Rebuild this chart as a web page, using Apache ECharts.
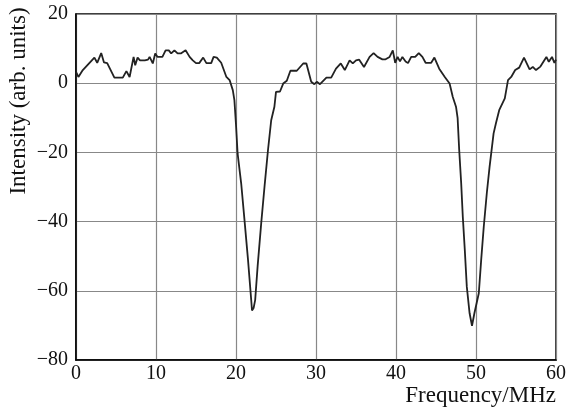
<!DOCTYPE html>
<html>
<head>
<meta charset="utf-8">
<script src="https://cdn.jsdelivr.net/npm/echarts@6/dist/echarts.min.js"></script>
<style>
  html, body { margin: 0; padding: 0; background: #fff; }
  #chart { width: 568px; height: 412px; }
</style>
</head>
<body>
<div id="chart"></div>
<script>
// values
const freq = [
  0, 0.3, 0.85, 2.3, 2.65, 3.15, 3.5, 3.9, 4.8, 5.85, 6.3, 6.7, 7.2, 7.4, 7.7, 8.0, 8.6, 9.0, 9.2, 9.6, 9.9,
  10.2, 10.8, 11.2, 11.6, 11.9, 12.3, 12.7, 13.1, 13.7, 14.2, 14.6, 15.0, 15.4, 15.9, 16.3, 16.9, 17.2,
  17.6, 18.15, 18.4, 18.8, 19.2, 19.6, 19.8, 20.0, 20.2, 20.65, 21.06, 21.5, 21.9, 22.0, 22.2, 22.4,
  22.7, 23.15, 23.6, 24.0, 24.4, 24.8, 25.0, 25.5, 25.9, 26.35, 26.8, 27.6, 28.4, 28.8, 29.4, 29.8,
  30.1, 30.5, 31.3, 31.9, 32.5, 33.1, 33.6, 34.2, 34.6, 35.0, 35.4, 36.0, 36.7, 37.2, 37.7, 38.3,
  38.7, 39.2, 39.6, 39.9, 40.2, 40.5, 40.8, 41.2, 41.5, 41.9, 42.4, 42.85, 43.3, 43.7, 44.4, 44.8,
  45.4, 46.1, 46.7, 47.1, 47.5, 47.7, 47.9, 48.15, 48.35, 48.6, 48.85, 49.2, 49.5, 49.8, 50.35,
  50.65, 50.97, 51.35, 51.7, 52.2, 52.5, 52.9, 53.6, 54.0, 54.4, 54.9, 55.4, 56.0, 56.7, 57.1,
  57.5, 58.05, 58.8, 59.1, 59.5, 59.8, 60
];
const intensity = [
  3.3, 1.8, 3.8, 7.4, 5.9, 8.7, 6.0, 5.8, 1.6, 1.6, 3.5, 1.8, 7.6, 5.2, 7.4, 6.6, 6.6, 6.8, 7.6, 5.7, 8.6,
  7.6, 7.6, 9.5, 9.5, 8.6, 9.5, 8.6, 8.6, 9.5, 7.6, 6.6, 5.8, 5.8, 7.4, 5.8, 5.8, 7.6,
  7.4, 5.9, 5.8, 1.8, 0.9, -2.0, -4.9, -12.0, -20.3, -29.0, -39.5, -51.0, -62.6, -65.7, -65.0, -62.6,
  -53.0, -40.5, -29.0, -19.3, -10.7, -6.8, -2.5, -2.4, -0.1, 0.7, 3.6, 3.6, 5.7, 5.7, 0.4, -0.3,
  0.4, -0.3, 1.6, 1.6, 4.2, 5.7, 3.8, 6.6, 5.7, 6.6, 6.8, 4.7, 7.6, 8.7, 7.6, 6.9,
  6.9, 7.6, 9.5, 5.9, 7.6, 6.3, 7.6, 6.3, 5.8, 7.6, 7.6, 8.7, 7.6, 5.9, 5.9, 7.4,
  4.2, 1.8, -0.1, -4.0, -6.8, -10.0, -19.3, -29.0, -38.6, -48.2, -58.8, -66.5, -70.1, -66.5, -60.7,
  -51.0, -41.5, -31.8, -24.1, -14.5, -11.5, -7.8, -4.4, 0.9, 1.8, 3.8, 4.5, 7.4, 4.0, 4.7,
  3.8, 4.8, 7.6, 6.2, 7.6, 5.9, 6.8
];
const points = freq.map((f, i) => [f, intensity[i]]);

const chart = echarts.init(document.getElementById('chart'));
const font = 'Liberation Serif, Times New Roman, serif';
chart.setOption({
  animation: false,
  grid: {
    left: 76, right: 12, top: 14, bottom: 52,
    outerBoundsMode: 'none', containLabel: false,
    show: true, borderColor: '#000', borderWidth: 1.5
  },
  xAxis: {
    type: 'value', min: 0, max: 60, interval: 10,
    name: 'Frequency/MHz', nameLocation: 'end', nameGap: 0,
    nameTextStyle: { fontFamily: font, fontSize: 23, color: '#111', align: 'right', verticalAlign: 'top', padding: [24, 0, 0, 0] },
    axisLine: { onZero: false, lineStyle: { color: '#000', width: 1.5 } },
    axisTick: { show: false },
    axisLabel: { fontFamily: font, fontSize: 20, color: '#111', margin: 4 },
    splitLine: { lineStyle: { color: '#888', width: 1.2 } }
  },
  yAxis: {
    type: 'value', min: -80, max: 20, interval: 20,
    name: 'Intensity (arb. units)', nameLocation: 'middle', nameGap: 46, nameMoveOverlap: false,
    nameTextStyle: { fontFamily: font, fontSize: 23, color: '#111', padding: [0, 0, 0, 172] },
    axisLine: { onZero: false, lineStyle: { color: '#000', width: 1.5 } },
    axisTick: { show: false },
    axisLabel: { fontFamily: font, fontSize: 20, color: '#111', margin: 8,
      formatter: v => String(v).replace('-', '\u2212') },
    splitLine: { lineStyle: { color: '#888', width: 1.2 } }
  },
  series: [{
    type: 'line',
    data: points,
    showSymbol: false,
    lineStyle: { color: '#222', width: 1.8 }
  }]
});
</script>
</body>
</html>
